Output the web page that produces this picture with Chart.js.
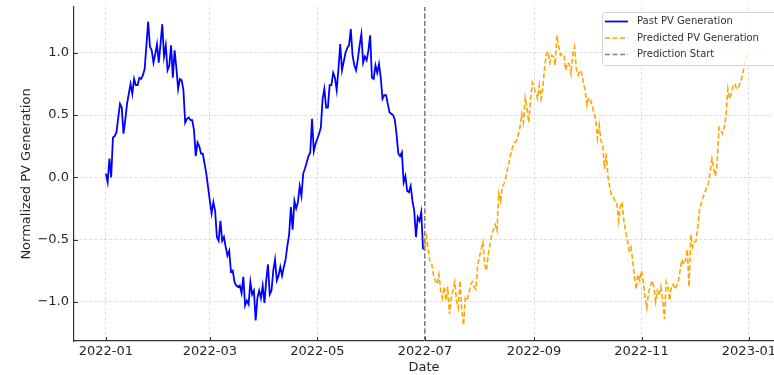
<!DOCTYPE html>
<html lang="en">
<head>
  <meta charset="UTF-8" />
  <title>PV Generation: Past and Predicted</title>
  <script src="https://cdn.jsdelivr.net/npm/chart.js"></script>
  <style>
    html, body {
      margin: 0;
      padding: 0;
      background: #fff;
      overflow: hidden;
    }
    canvas {
      display: block;
    }
  </style>
</head>
<body>
  <canvas id="pvChart" width="774" height="375"></canvas>

  <script>
    // x values are day offsets from 2022-01-01
    const startDate = '2022-01-01';

    // daily values 2022-01-01 .. 2022-06-30
    const pastValues = [
      0.03, -0.04, 0.15, 0.00, 0.32, 0.33, 0.36, 0.48, 0.59, 0.56,
      0.35, 0.46, 0.59, 0.67, 0.75, 0.67, 0.79, 0.74, 0.74, 0.80,
      0.79, 0.82, 0.87, 1.06, 1.25, 1.05, 1.02, 0.92, 0.99, 1.07,
      0.92, 1.07, 1.23, 0.97, 1.06, 0.86, 0.90, 1.06, 0.80, 1.02,
      0.88, 0.71, 0.79, 0.78, 0.70, 0.44, 0.47, 0.48, 0.46, 0.46,
      0.38, 0.17, 0.28, 0.25, 0.19, 0.19, 0.11, 0.03, -0.08, -0.19,
      -0.29, -0.20, -0.27, -0.48, -0.51, -0.35, -0.51, -0.48, -0.56, -0.63,
      -0.59, -0.76, -0.75, -0.84, -0.87, -0.88, -0.87, -0.93, -0.80, -1.03,
      -0.99, -1.02, -0.84, -0.94, -0.91, -1.15, -0.97, -0.91, -0.97, -0.87,
      -1.01, -0.83, -0.70, -0.94, -0.91, -0.75, -0.66, -0.83, -0.79, -0.72,
      -0.79, -0.72, -0.66, -0.55, -0.46, -0.24, -0.42, -0.19, -0.25, -0.20,
      -0.07, -0.15, 0.03, 0.07, 0.12, 0.17, 0.20, 0.47, 0.21, 0.27,
      0.31, 0.35, 0.40, 0.63, 0.71, 0.56, 0.56, 0.74, 0.74, 0.84,
      0.80, 0.70, 0.87, 1.07, 0.86, 0.93, 1.00, 1.04, 1.06, 1.19,
      0.98, 0.90, 0.86, 0.95, 1.06, 1.15, 0.92, 0.97, 0.94, 1.02,
      1.14, 0.80, 0.79, 0.90, 0.84, 0.91, 0.80, 0.63, 0.66, 0.66,
      0.59, 0.52, 0.51, 0.50, 0.46, 0.34, 0.19, 0.17, 0.20, -0.04,
      0.01, -0.11, -0.12, -0.07, -0.19, -0.27, -0.48, -0.32, -0.35, -0.28, -0.58
    ];

    // daily values 2022-07-01 .. 2022-12-31
    const predictedValues = [
      -0.56, -0.48, -0.59, -0.68, -0.70, -0.79, -0.83, -0.86, -0.78, -0.91,
      -0.97, -0.88, -0.99, -0.88, -1.10, -0.97, -0.91, -0.84, -0.99, -1.05,
      -0.83, -1.07, -1.19, -0.97, -0.99, -0.94, -0.86, -0.84, -0.88, -0.90,
      -0.71, -0.64, -0.58, -0.52, -0.70, -0.75, -0.62, -0.54, -0.46, -0.42,
      -0.38, -0.43, -0.13, -0.19, -0.08, -0.05, 0.00, 0.07, 0.13, 0.20,
      0.25, 0.28, 0.29, 0.34, 0.40, 0.51, 0.44, 0.64, 0.56, 0.44,
      0.62, 0.76, 0.72, 0.68, 0.63, 0.74, 0.63, 0.72, 0.88, 0.99,
      1.01, 0.92, 0.98, 0.97, 0.90, 1.14, 1.05, 0.98, 0.99, 0.98,
      0.86, 0.92, 0.91, 0.83, 0.99, 1.05, 0.87, 0.82, 0.86, 0.84,
      0.76, 0.70, 0.58, 0.64, 0.62, 0.58, 0.51, 0.47, 0.31, 0.42,
      0.29, 0.27, 0.07, 0.19, 0.00, -0.08, -0.15, -0.16, -0.19, -0.20,
      -0.35, -0.23, -0.20, -0.35, -0.43, -0.51, -0.59, -0.56, -0.67, -0.79,
      -0.90, -0.78, -0.83, -0.75, -0.84, -0.96, -1.05, -0.92, -0.88, -0.83,
      -0.88, -1.00, -0.91, -0.95, -0.88, -0.98, -1.14, -0.84, -0.88, -0.99,
      -0.87, -0.86, -0.90, -0.87, -0.83, -0.74, -0.66, -0.70, -0.67, -0.58,
      -0.88, -0.46, -0.56, -0.52, -0.51, -0.39, -0.25, -0.21, -0.16, -0.12,
      -0.08, -0.05, 0.05, 0.15, 0.07, 0.01, 0.13, 0.40, 0.38, 0.35,
      0.40, 0.50, 0.71, 0.63, 0.67, 0.74, 0.75, 0.71, 0.72, 0.76,
      0.80, 0.87, 0.95, 0.99
    ];

    const predictionStartDay = 181; // 2022-07-01

    const xTickDays = [0, 59, 120, 181, 243, 304, 365];
    const xTickLabels = ['2022-01', '2022-03', '2022-05', '2022-07', '2022-09', '2022-11', '2023-01'];
    const yTickValues = [-1, -0.5, 0, 0.5, 1];

    const X_MIN = -18.1, X_MAX = 379.2;
    const Y_MIN = -1.315, Y_MAX = 1.368;
    const FONT = "'DejaVu Sans', sans-serif";

    const pastPoints = pastValues.map((v, i) => ({ x: i, y: v }));
    const predictedPoints = predictedValues.map((v, i) => ({ x: predictionStartDay + i, y: v }));
    const startLine = [{ x: predictionStartDay, y: Y_MIN }, { x: predictionStartDay, y: Y_MAX }];

    // matplotlib style ticks pointing into the plot
    const innerTicks = {
      id: 'innerTicks',
      afterDraw(chart) {
        const { ctx, chartArea, scales: { x, y } } = chart;
        ctx.save();
        ctx.strokeStyle = '#333';
        ctx.lineWidth = 1;
        ctx.beginPath();
        xTickDays.forEach(d => {
          const px = Math.round(x.getPixelForValue(d)) + 0.5;
          if (px > chartArea.right) return;
          ctx.moveTo(px, chartArea.bottom);
          ctx.lineTo(px, chartArea.bottom - 4);
        });
        yTickValues.forEach(v => {
          const py = Math.round(y.getPixelForValue(v)) + 0.5;
          ctx.moveTo(chartArea.left, py);
          ctx.lineTo(chartArea.left + 4, py);
        });
        ctx.stroke();
        ctx.restore();
      }
    };

    // legend box inside the plot, upper right
    const boxLegend = {
      id: 'boxLegend',
      afterDatasetsDraw(chart) {
        const ctx = chart.ctx;
        const left = 602, top = 12, w = 180, h = 53;
        ctx.save();
        ctx.fillStyle = 'rgba(255,255,255,0.8)';
        ctx.strokeStyle = '#d5d5d5';
        ctx.lineWidth = 1;
        ctx.beginPath();
        ctx.roundRect(left + 0.5, top + 0.5, w, h, 3);
        ctx.fill();
        ctx.stroke();

        ctx.font = '10px ' + FONT;
        ctx.textBaseline = 'middle';
        ctx.textAlign = 'left';
        chart.data.datasets.forEach((ds, i) => {
          const ly = top + 9.5 + i * 16.5;
          ctx.strokeStyle = ds.borderColor;
          ctx.lineWidth = ds.borderWidth;
          ctx.setLineDash(ds.borderDash || []);
          ctx.beginPath();
          ctx.moveTo(605, ly);
          ctx.lineTo(628, ly);
          ctx.stroke();
          ctx.setLineDash([]);
          ctx.fillStyle = '#333';
          ctx.fillText(ds.label, 637, ly);
        });
        ctx.restore();
      }
    };

    new Chart(document.getElementById('pvChart'), {
      type: 'line',
      data: {
        datasets: [
          {
            label: 'Past PV Generation',
            data: pastPoints,
            borderColor: '#0000ff',
            borderWidth: 1.8,
            pointRadius: 0,
            tension: 0,
            fill: false
          },
          {
            label: 'Predicted PV Generation',
            data: predictedPoints,
            borderColor: '#ffa500',
            borderWidth: 1.6,
            borderDash: [5, 2.5],
            pointRadius: 0,
            tension: 0,
            fill: false
          },
          {
            label: 'Prediction Start',
            data: startLine,
            borderColor: '#808080',
            borderWidth: 1.6,
            borderDash: [5, 2.5],
            pointRadius: 0,
            fill: false
          }
        ]
      },
      options: {
        responsive: false,
        animation: false,
        devicePixelRatio: 1,
        layout: { padding: { top: 7, right: 0, left: 0, bottom: 0 } },
        plugins: {
          legend: { display: false },
          tooltip: { enabled: false }
        },
        scales: {
          x: {
            type: 'linear',
            min: X_MIN,
            max: X_MAX,
            afterFit: s => { s.height = 34; s.paddingLeft = 0; s.paddingRight = 0; },
            afterBuildTicks: s => { s.ticks = xTickDays.map(v => ({ value: v })); },
            grid: { color: '#d4d4d4', lineWidth: 0.8, drawTicks: false },
            border: { display: true, color: '#333', width: 1.2, dash: [3, 2] },
            ticks: {
              autoSkip: false,
              maxRotation: 0,
              padding: 3,
              color: '#262626',
              font: { family: FONT, size: 13 },
              callback: v => xTickLabels[xTickDays.indexOf(v)]
            },
            title: {
              display: true,
              text: 'Date',
              color: '#262626',
              font: { family: FONT, size: 13 },
              padding: { top: 0, bottom: 0 }
            }
          },
          y: {
            min: Y_MIN,
            max: Y_MAX,
            afterFit: s => { s.width = 74; s.paddingTop = 0; s.paddingBottom = 0; },
            afterBuildTicks: s => { s.ticks = yTickValues.map(v => ({ value: v })); },
            grid: { color: '#d4d4d4', lineWidth: 0.8, drawTicks: false },
            border: { display: true, color: '#333', width: 1.2, dash: [3, 2] },
            ticks: {
              padding: 5,
              color: '#262626',
              font: { family: FONT, size: 13 },
              callback: v => v.toFixed(1).replace('-', '\u2212')
            },
            title: {
              display: true,
              text: 'Normalized PV Generation',
              color: '#262626',
              font: { family: FONT, size: 13 },
              padding: { top: 19, bottom: 0 }
            }
          }
        }
      },
      plugins: [innerTicks, boxLegend]
    });
  </script>
</body>
</html>
